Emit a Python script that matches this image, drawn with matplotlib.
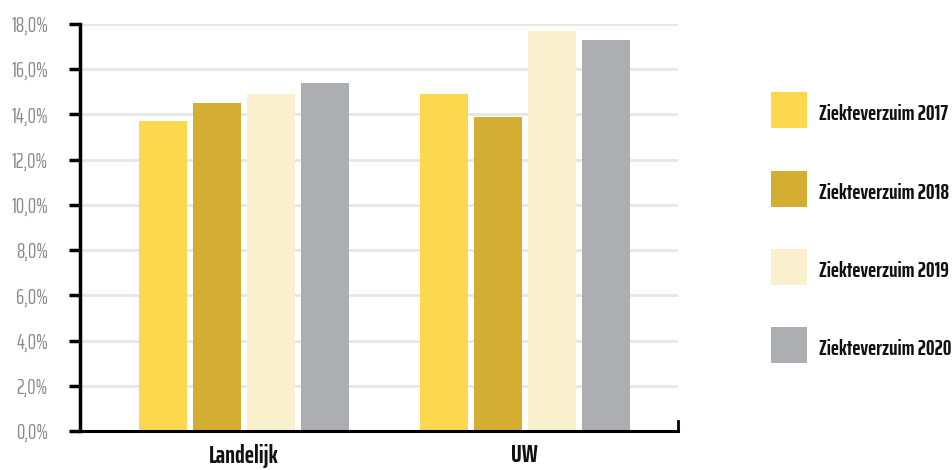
import matplotlib.pyplot as plt
import numpy as np
from matplotlib.patches import Rectangle

categories = ["Landelijk", "UW"]
series_names = ["Ziekteverzuim 2017", "Ziekteverzuim 2018", "Ziekteverzuim 2019", "Ziekteverzuim 2020"]
values = [
    [13.7, 14.9],
    [14.5, 13.9],
    [14.9, 17.7],
    [15.4, 17.3],
]
colors = ["#fbd84e", "#d4ae32", "#faf0cd", "#adaeb1"]
yticks = [0, 2, 4, 6, 8, 10, 12, 14, 16, 18]

font = "Saira ExtraCondensed"
plt.rcParams["font.family"] = [font, "DejaVu Sans"]

W, H = 952, 470
fig = plt.figure(figsize=(W / 100, H / 100), dpi=100)
ax = fig.add_axes([80 / W, 39 / H, 598 / W, 407 / H])

x = np.arange(len(categories))
width = 0.171
step = 0.192
for i, (name, vals) in enumerate(zip(series_names, values)):
    ax.bar(x + (i - 1.5) * step, vals, width, color=colors[i], label=name, zorder=3)

ax.set_xlim(-0.584, 1.545)
ax.set_ylim(0, 18)
ax.set_yticks(yticks)
ax.set_yticklabels([f"{t:.1f}%".replace(".", ",") for t in yticks],
                   fontsize=15, color="#8a8a8a", fontweight="normal")
ax.set_xticks(x)
ax.set_xticklabels(categories, fontsize=18, fontweight="bold", color="#111111")
ax.tick_params(axis="x", length=0, pad=9)
ax.tick_params(axis="y", length=8, width=2.5, color="black", pad=15)
ax.grid(axis="y", color="#e6e6e6", linewidth=2, zorder=0)

for side in ["top", "right"]:
    ax.spines[side].set_visible(False)
ax.spines["left"].set_linewidth(2.5)
ax.spines["bottom"].set_linewidth(2.2)
ax.spines["left"].set_zorder(4)
ax.spines["bottom"].set_zorder(4)
# small end tick on the right of the x axis
ax.plot([1.545, 1.545], [0, 0.45], color="black", lw=2, clip_on=False, zorder=5)

# legend: square swatches with labels, stacked on the right
legend_y = [110, 189, 267, 345]
for c, name, yc in zip(colors, series_names, legend_y):
    fig.add_artist(Rectangle((771 / W, 1 - (yc + 18) / H), 36 / W, 36 / H,
                             transform=fig.transFigure, color=c, lw=0))
    fig.text(819 / W, 1 - (yc + 10) / H, name, fontsize=15.5, fontweight="bold",
             color="#111111", va="baseline", ha="left")

fig.savefig("out.png", dpi=100)
